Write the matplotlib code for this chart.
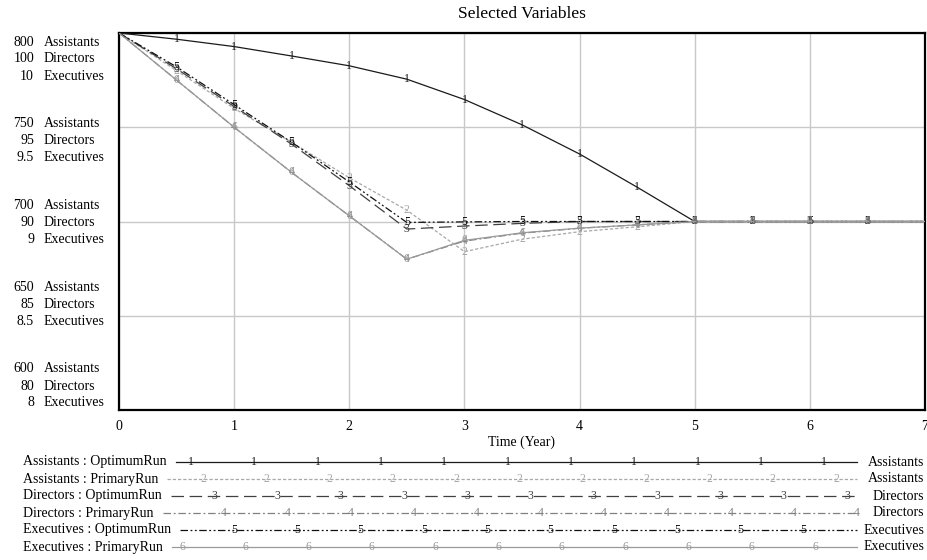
import matplotlib
matplotlib.use("Agg")
import matplotlib.pyplot as plt
import numpy as np

plt.rcParams['font.family'] = ['Liberation Serif', 'DejaVu Serif']

# ---------------- data ----------------
time = [0, 0.5, 1, 1.5, 2, 2.5, 3, 3.5, 4, 4.5, 5, 5.5, 6, 6.5, 7]

assistants_optimum = [800, 796.7, 792.8, 787.8, 782.6, 775.5, 764.7, 751.3, 735.8, 718.2, 700, 700, 700, 700, 700]
assistants_primary = [800, 780.0, 760.0, 742.0, 723.2, 706.0, 684.0, 690.6, 694.6, 697.2, 700, 700, 700, 700, 700]
directors_optimum = [100, 98.1, 96.1, 94.1, 91.9, 89.6, 89.76, 89.9, 90, 90, 90, 90, 90, 90, 90]
directors_primary = [100, 97.5, 95.0, 92.6, 90.3, 88.0, 88.96, 89.38, 89.64, 89.82, 90, 90, 90, 90, 90]
executives_optimum = [10, 9.82, 9.62, 9.42, 9.21, 8.995, 8.998, 9.0, 9.0, 9.0, 9.0, 9.0, 9.0, 9.0, 9.0]
executives_primary = [10, 9.75, 9.5, 9.26, 9.03, 8.8, 8.9, 8.94, 8.965, 8.982, 9.0, 9.0, 9.0, 9.0, 9.0]

assistant_ticks = [800, 750, 700, 650, 600]
director_ticks = [100, 95, 90, 85, 80]
executive_ticks = ['10', '9.5', '9', '8.5', '8']
x_ticks = [0, 1, 2, 3, 4, 5, 6, 7]

series_names = ["Assistants : OptimumRun", "Assistants : PrimaryRun",
                "Directors : OptimumRun", "Directors : PrimaryRun",
                "Executives : OptimumRun", "Executives : PrimaryRun"]
series_units = ["Assistants", "Assistants", "Directors", "Directors", "Executives", "Executives"]

# ---------------- styles ----------------
FS = 10
MFS = 8.5
W, H = 927, 560
fig = plt.figure(figsize=(W / 100, H / 100), dpi=100)

L, R, T, B = 119, 925, 33, 410
ax = fig.add_axes([L / W, 1 - B / H, (R - L) / W, (B - T) / H])
ax2 = ax.twinx()
ax3 = ax.twinx()

ax.set_xlim(0, 7)
ax.set_ylim(600, 800)
ax2.set_ylim(80, 100)
ax3.set_ylim(8, 10)
for a in (ax2, ax3):
    a.set_axis_off()
    a.set_xlim(0, 7)

ax.set_xticks(x_ticks)
ax.set_xticklabels([str(t) for t in x_ticks], fontsize=FS)
ax.set_yticks(assistant_ticks)
ax.set_yticklabels([])
ax.tick_params(axis='both', length=0, pad=7)
ax.grid(True, color='#c8c8c8', linewidth=1.0)
for s in ax.spines.values():
    s.set_linewidth(1.6)
    s.set_color('black')
ax.set_axisbelow(True)

ax.set_xlabel("Time (Year)", fontsize=FS, labelpad=2)
fig.text((L + R) / 2 / W, 1 - 14 / H, "Selected Variables", ha='center', va='center', fontsize=12.5)

styles = [
    dict(color='#1a1a1a', ls='-'),
    dict(color='#a8a8a8', ls=(0, (2.6, 1.6))),
    dict(color='#404040', ls=(0, (10, 4.5))),
    dict(color='#808080', ls=(0, (6, 2.2, 1.5, 2.2))),
    dict(color='#101010', ls=(0, (6, 2, 1.5, 2, 1.5, 2))),
    dict(color='#9a9a9a', ls='-'),
]

data = [(ax, assistants_optimum), (ax, assistants_primary),
        (ax2, directors_optimum), (ax2, directors_primary),
        (ax3, executives_optimum), (ax3, executives_primary)]

for i, ((a, vals), st) in enumerate(zip(data, styles)):
    a.plot(time, vals, color=st['color'], linestyle=st['ls'], linewidth=0.9, zorder=3)
    for t, v in zip(time[1:-1], vals[1:-1]):
        a.text(t, v, str(i + 1), color=st['color'], fontsize=MFS, ha='center', va='center', zorder=4)

# ---------------- left axis labels ----------------
for gi in range(5):
    ymid = 59 + gi * (386 - 59) / 4
    rows = [(str(assistant_ticks[gi]), "Assistants"),
            (str(director_ticks[gi]), "Directors"),
            (executive_ticks[gi], "Executives")]
    for ri, (num, name) in enumerate(rows):
        yy = ymid + (ri - 1) * 17
        fig.text(34 / W, 1 - yy / H, num, ha='right', va='center', fontsize=FS)
        fig.text(44 / W, 1 - yy / H, name, ha='left', va='center', fontsize=FS)

# ---------------- bottom legend ----------------
fig.canvas.draw()
renderer = fig.canvas.get_renderer()
marker_base = [191, 203, 214, 224, 234, 182]
line_end = 857
for r in range(6):
    yy = 462 + 17 * r
    t = fig.text(23 / W, 1 - yy / H, series_names[r], ha='left', va='center', fontsize=FS)
    ext = t.get_window_extent(renderer)
    x0 = ext.x1 + 9
    fig.text(924 / W, 1 - yy / H, series_units[r], ha='right', va='center', fontsize=FS)
    st = styles[r]
    fig.add_artist(plt.Line2D([x0 / W, line_end / W], [1 - yy / H, 1 - yy / H],
                              transform=fig.transFigure, color=st['color'],
                              linestyle=st['ls'], linewidth=0.9))
    xm = marker_base[r] - 63.3
    while xm <= line_end + 1:
        if xm >= x0 + 3:
            fig.text(xm / W, 1 - yy / H, str(r + 1), color=st['color'], fontsize=MFS,
                     ha='center', va='center')
        xm += 63.3

fig.savefig("out.png", dpi=100)
